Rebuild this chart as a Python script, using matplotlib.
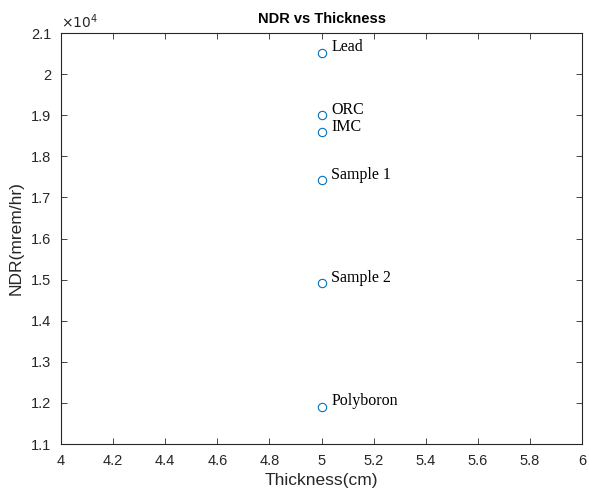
import matplotlib
matplotlib.use('Agg')
import matplotlib.pyplot as plt

# data
materials = ['Lead', 'ORC', 'IMC', 'Sample 1', 'Sample 2', 'Polyboron']
thickness = [5, 5, 5, 5, 5, 5]
ndr = [20520, 19000, 18580, 17420, 14910, 11910]
xticks = [4, 4.2, 4.4, 4.6, 4.8, 5, 5.2, 5.4, 5.6, 5.8, 6]
xtick_labels = ['4', '4.2', '4.4', '4.6', '4.8', '5', '5.2', '5.4', '5.6', '5.8', '6']
yticks = [11000, 12000, 13000, 14000, 15000, 16000, 17000, 18000, 19000, 20000, 21000]
ytick_labels = ['1.1', '1.2', '1.3', '1.4', '1.5', '1.6', '1.7', '1.8', '1.9', '2', '2.1']

plt.rcParams['font.family'] = ['Liberation Sans', 'DejaVu Sans']
grey = '#262626'

fig = plt.figure(figsize=(5.89, 4.97), dpi=100)
ax = fig.add_axes([0.1036, 0.1066, 0.8846, 0.827])

ax.plot(thickness, ndr, linestyle='none', marker='o', markersize=6,
        markerfacecolor='none', markeredgecolor='#0072bd', markeredgewidth=0.8)
for name, x, y in zip(materials, thickness, ndr):
    ax.annotate(name, (x, y), xytext=(7, 4), textcoords='offset points',
                fontsize=11.5, family='Liberation Serif', color='black',
                ha='left', va='center')

ax.set_xlim(4, 6)
ax.set_ylim(11000, 21000)
ax.set_xticks(xticks)
ax.set_xticklabels(xtick_labels)
ax.set_yticks(yticks)
ax.set_yticklabels(ytick_labels)
ax.tick_params(direction='in', length=4, width=0.6, top=True, right=True,
               labelsize=10.5, colors=grey, pad=7)
for s in ax.spines.values():
    s.set_color(grey)
    s.set_linewidth(0.8)

ax.text(0.0, 1.005, r'$\times10^{4}$', transform=ax.transAxes, fontsize=10,
        color=grey, ha='left', va='bottom')
ax.set_title('NDR vs Thickness', fontsize=10.5, fontweight='bold', color='black', pad=7)
ax.set_xlabel('Thickness(cm)', fontsize=12.5, color=grey, labelpad=4)
ax.set_ylabel('NDR(mrem/hr)', fontsize=12.5, color=grey, labelpad=5)

fig.savefig('out.png', dpi=100)
